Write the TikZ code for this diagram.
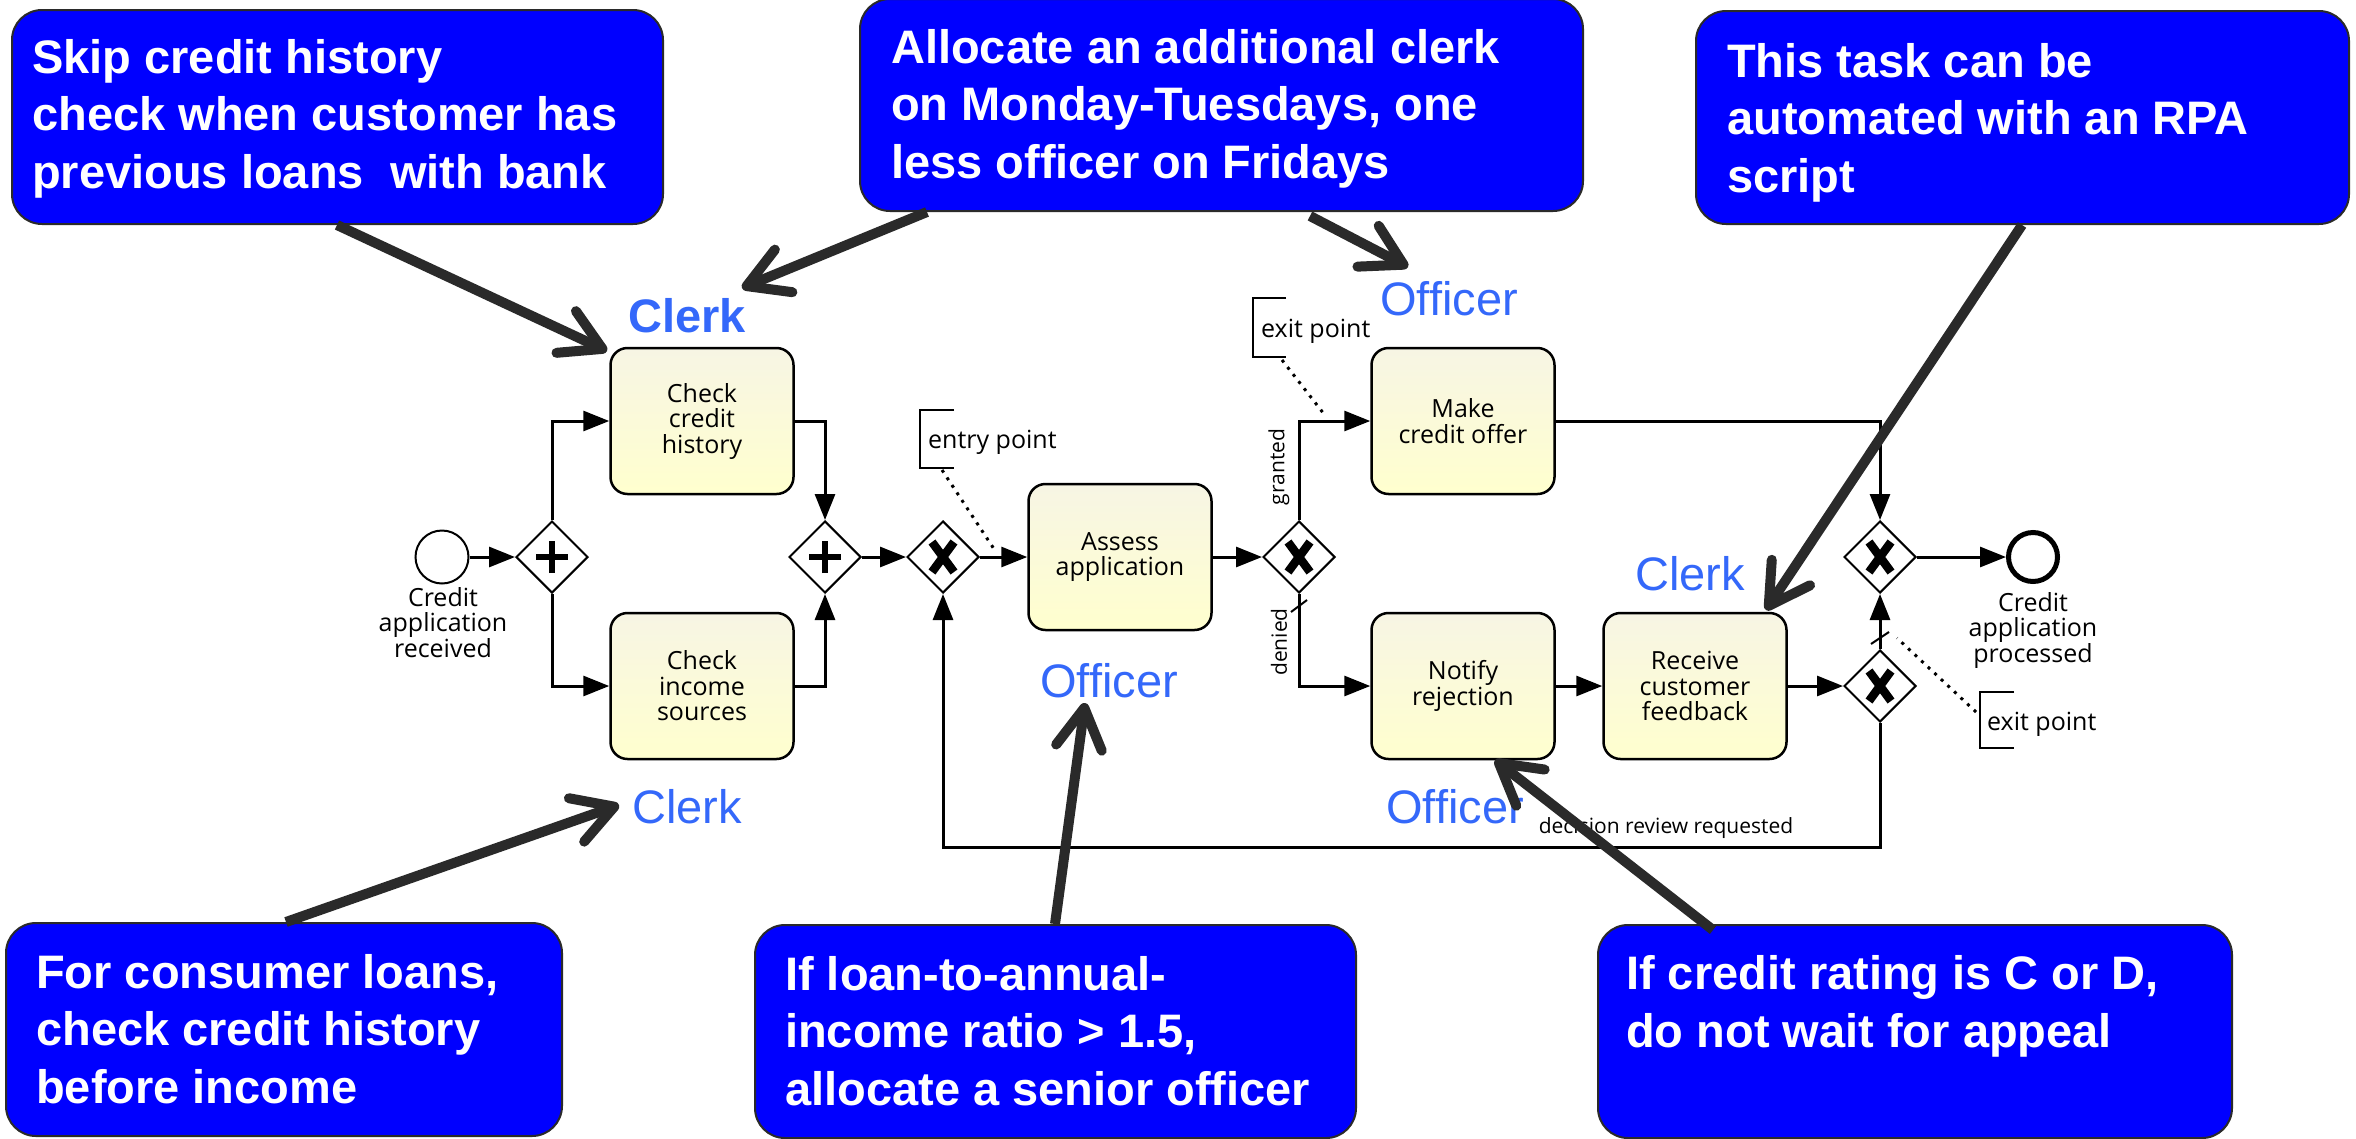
\documentclass[tikz,border=0pt]{standalone}
\usepackage{fontspec}
\setmainfont{Liberation Sans}
\newfontfamily\bpmnfont{Open Sans}
\usetikzlibrary{arrows.meta,shapes.geometric}
\definecolor{annblue}{RGB}{0,0,255}
\definecolor{annline}{RGB}{42,42,42}
\definecolor{rolecol}{RGB}{52,104,250}
\definecolor{tfa}{RGB}{247,245,228}
\definecolor{tfb}{RGB}{255,255,206}
\tikzset{
  annbox/.style={draw=annline, line width=2pt, fill=annblue, rounded corners=30pt, inner sep=0pt, anchor=north west},
  anntext/.style={text=white, font=\fontsize{47}{57.5}\selectfont\bfseries, align=left, anchor=base west, inner sep=0pt},
  annarrow/.style={draw=annline, line width=10pt, -{Straight Barb[length=40pt,width=46pt,round]}},
  taskbox/.style={draw=black, line width=2.5pt, rounded corners=17pt, minimum width=183pt, minimum height=146pt, top color=tfa, bottom color=tfb, font=\bpmnfont\fontsize{25}{25.5}\selectfont, align=center, inner sep=0pt},
  gw/.style={diamond, draw=black, line width=2pt, fill=white, minimum width=72pt, minimum height=72pt, inner sep=0pt},
  xorgw/.style={gw, path picture={\draw[line width=8.5pt] ([xshift=-11pt,yshift=-15pt]path picture bounding box.center) -- ([xshift=11pt,yshift=15pt]path picture bounding box.center) ([xshift=-11pt,yshift=15pt]path picture bounding box.center) -- ([xshift=11pt,yshift=-15pt]path picture bounding box.center);}},
  andgw/.style={gw, path picture={\draw[line width=6pt] ([xshift=-16pt]path picture bounding box.center) -- ([xshift=16pt]path picture bounding box.center) ([yshift=-16pt]path picture bounding box.center) -- ([yshift=16pt]path picture bounding box.center);}},
  seqflow/.style={draw=black, line width=3pt, -{Triangle[length=26pt,width=20pt]}},
  bpmntext/.style={font=\bpmnfont\fontsize{25}{25.5}\selectfont, align=center, inner sep=0pt},
  flowlabel/.style={font=\bpmnfont\fontsize{21}{22}\selectfont, inner sep=0pt},
  rolelabel/.style={text=rolecol, font=\fontsize{47}{50}\selectfont, anchor=base, inner sep=0pt},
  assoc/.style={draw=black, line width=3pt, dash pattern=on 3pt off 6pt},
  bracket/.style={draw=black, line width=2.5pt},
}
\begin{document}
\begin{tikzpicture}[x=1pt,y=-1pt]
\useasboundingbox (0,0) rectangle (2356,1138);
\fill[white] (0,0) rectangle (2356,1138);

% ---------- BPMN process ----------
\node[circle, draw=black, line width=2pt, minimum size=53pt, inner sep=0pt, fill=white] (start) at (442,557) {};
\node[bpmntext, anchor=base] (startlbl) at (443,657) {Credit\\application\\received};
\node[andgw] (and1) at (552,557) {};
\node[taskbox] (chc) at (702,421) {Check\\credit\\history};
\node[taskbox] (cis) at (702,686) {Check\\income\\sources};
\node[andgw] (and2) at (825,557) {};
\node[xorgw] (xor1) at (943,557) {};
\node[taskbox] (assess) at (1120,557) {Assess\\application};
\node[xorgw] (xor2) at (1299,557) {};
\node[taskbox] (offer) at (1463,421) {Make\\credit offer};
\node[taskbox] (notify) at (1463,686) {Notify\\rejection};
\node[taskbox] (feedback) at (1695,686) {Receive\\customer\\feedback};
\node[xorgw] (xor3) at (1880,686) {};
\node[xorgw] (xor4) at (1880,557) {};
\node[circle, draw=black, line width=5pt, minimum size=49pt, inner sep=0pt, fill=white] (end) at (2033,557) {};
\node[bpmntext, anchor=base] (endlbl) at (2033,662) {Credit\\application\\processed};

\draw[seqflow] (start) -- (and1);
\draw[seqflow] (and1.north) |- (chc.west);
\draw[seqflow] (and1.south) |- (cis.west);
\draw[seqflow] (chc.east) -| (and2.north);
\draw[seqflow] (cis.east) -| (and2.south);
\draw[seqflow] (and2) -- (xor1);
\draw[seqflow] (xor1) -- (assess);
\draw[seqflow] (assess) -- (xor2);
\draw[seqflow] (xor2.north) |- (offer.west);
\draw[seqflow] (xor2.south) |- (notify.west);
\draw[seqflow] (offer.east) -| (xor4.north);
\draw[seqflow] (notify) -- (feedback);
\draw[seqflow] (feedback) -- (xor3);
\draw[seqflow] (xor3.north) -- (xor4.south);
\draw[seqflow] (xor4) -- (end);
\coordinate (loopc) at (1400,847);
\draw[seqflow] (xor3.south) |- (loopc) -| (xor1.south);

% default flow markers
\draw[line width=2pt] (1291,612) -- (1307,600);
\draw[line width=2pt] (1871,644) -- (1889,632);

% flow labels
\node[flowlabel, rotate=90] (lgranted) at (1279,467) {granted};
\node[flowlabel, rotate=90] (ldenied) at (1279,642) {denied};
\node[flowlabel, anchor=base] (lreview) at (1666,833) {decision review requested};

% text annotations
\draw[bracket] (954,410) -- (920,410) -- (920,468) -- (954,468);
\node[bpmntext, anchor=base west] (entry) at (928,448) {entry point};
\coordinate (entryc) at (996,552);
\draw[assoc] (942,470) -- (entryc);

\draw[bracket] (1286,298) -- (1253,298) -- (1253,357) -- (1286,357);
\node[bpmntext, anchor=base west] (exit1) at (1261,337) {exit point};
\coordinate (exit1c) at (1324,414);
\draw[assoc] (1282,360) -- (exit1c);

\draw[bracket] (2014,692) -- (1980,692) -- (1980,748) -- (2014,748);
\node[bpmntext, anchor=base west] (exit2) at (1987,730) {exit point};
\coordinate (exit2c) at (1897,638);
\draw[assoc] (1976,712) -- (exit2c);

% role labels
\node[rolelabel, font=\fontsize{47}{50}\selectfont\bfseries] (r1) at (687,332) {Clerk};
\node[rolelabel] (r2) at (687,823) {Clerk};
\node[rolelabel] (r3) at (1109,697) {Officer};
\node[rolelabel] (r4) at (1449,315) {Officer};
\node[rolelabel] (r5) at (1690,590) {Clerk};
\node[rolelabel] (r6) at (1455,823) {Officer};

% ---------- annotation boxes ----------
\node[annbox, minimum width=651pt, minimum height=214pt] (B1) at (11,9) {};
\node[anntext] (T1) at (32,188) {Skip credit history\\check when customer has\\previous loans\ \ with bank};
\node[annbox, minimum width=723pt, minimum height=212pt] (B2) at (859,-2) {};
\node[anntext] (T2) at (891,178) {Allocate an additional clerk\\on Monday-Tuesdays, one\\less officer on Fridays};
\node[annbox, minimum width=653pt, minimum height=213pt] (B3) at (1695,10) {};
\node[anntext] (T3) at (1727,192) {This task can be\\automated with an RPA\\script};
\node[annbox, minimum width=556pt, minimum height=213pt] (B4) at (5,922) {};
\node[anntext] (T4) at (36,1103) {For consumer loans,\\check credit history\\before income};
\node[annbox, minimum width=601pt, minimum height=213pt] (B5) at (754,924) {};
\node[anntext] (T5) at (785,1105) {If loan-to-annual-\\income ratio > 1.5,\\allocate a senior officer};
\node[annbox, minimum width=634pt, minimum height=213pt] (B6) at (1597,924) {};
\node[anntext] (T6) at (1626,1047) {If credit rating is C or D,\\do not wait for appeal};

% ---------- annotation arrows ----------
\coordinate (t1) at (607,351);
\coordinate (t2) at (742,288);
\coordinate (t3) at (1408,267);
\coordinate (t4) at (1766,610);
\coordinate (t5) at (619,805);
\coordinate (t6) at (1085,703);
\coordinate (t7) at (1495,760);
\draw[annarrow] ([xshift=326pt]B1.south west) -- (t1);
\draw[annarrow] ([xshift=68pt]B2.south west) -- (t2);
\draw[annarrow] ([xshift=451pt,yshift=-4pt]B2.south west) -- (t3);
\draw[annarrow] ([xshift=327pt]B3.south west) -- (t4);
\draw[annarrow] ([xshift=281pt]B4.north west) -- (t5);
\draw[annarrow] ([xshift=301pt]B5.north west) -- (t6);
\draw[annarrow] ([xshift=116pt,yshift=-6pt]B6.north west) -- (t7);
\end{tikzpicture}
\end{document}
